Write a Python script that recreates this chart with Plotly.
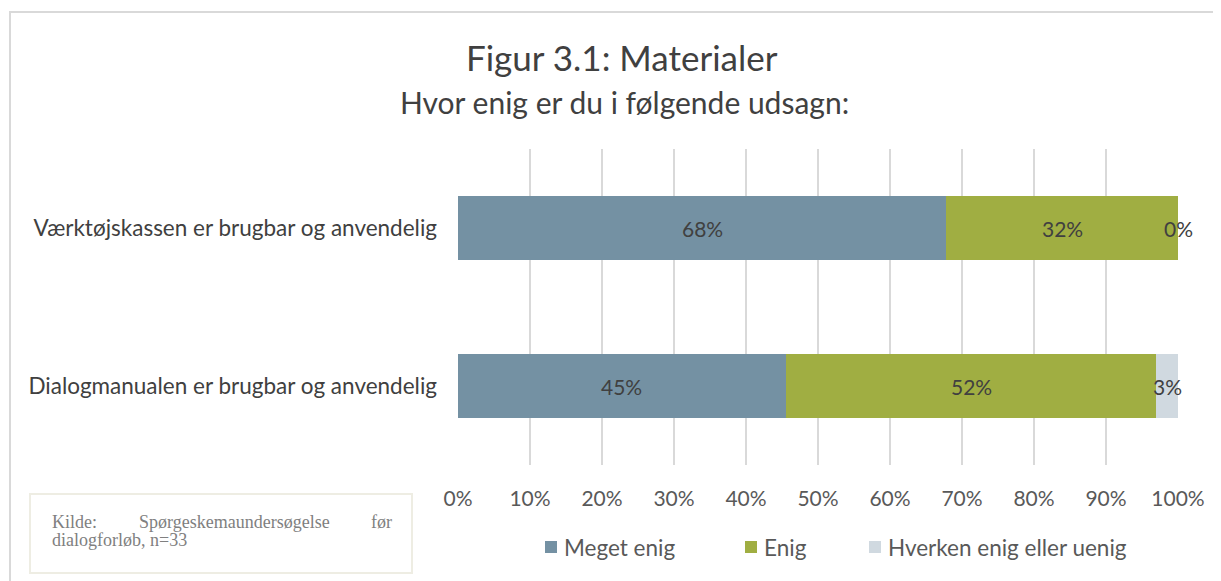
import plotly.graph_objects as go

categories = ["Dialogmanualen er brugbar og anvendelig", "Værktøjskassen er brugbar og anvendelig"]
series_names = ["Meget enig", "Enig", "Hverken enig eller uenig"]
meget_enig = [45.5, 67.8]
enig = [51.5, 32.2]
hverken = [3.0, 0.0]
labels_meget = ["45%", "68%"]
labels_enig = ["52%", "32%"]
labels_hverken = ["3%", "0%"]
colors = ["#7491A3", "#A0AE42", "#D0D9E0"]
tick_vals = [0, 10, 20, 30, 40, 50, 60, 70, 80, 90, 100]
tick_text = [f"{v}%" for v in tick_vals]

# page has an 8px body margin; work in page coordinates and convert
OFF = 8
W, H = 1221 - OFF, 581 - OFF
L, R, T, B = 458, 1178, 149, 465  # plot area in page px

def px(x):
    return (x - L) / (R - L)

def py(y):
    return 1 - (y - T) / (B - T)

FONT = "Lato"
TXT = "#404040"
fig = go.Figure()
series = [meget_enig, enig, hverken]
series_labels = [labels_meget, labels_enig, labels_hverken]
for name, vals, col in zip(series_names, series, colors):
    fig.add_trace(go.Bar(
        y=categories, x=vals, name=name, orientation="h",
        marker=dict(color=col, line=dict(width=0)),
        showlegend=False, hoverinfo="x+y+name",
    ))

# data labels centred in each segment (via data coordinates)
for i, cat in enumerate(categories):
    base = 0.0
    for vals, labs in zip(series, series_labels):
        mid = base + vals[i] / 2
        fig.add_annotation(x=mid, y=cat, xref="x", yref="y", text=labs[i], showarrow=False,
                           font=dict(size=21, color=TXT, family=FONT))
        base += vals[i]

fig.update_layout(
    width=W, height=H, barmode="stack", bargap=0.6,
    margin=dict(l=L - OFF, r=W - (R - OFF), t=T - OFF, b=H - (B - OFF)),
    paper_bgcolor="white", plot_bgcolor="white",
    font=dict(family=FONT, color="#595959"),
    xaxis=dict(range=[0, 100], tickvals=tick_vals, ticktext=tick_text,
               showgrid=True, gridcolor="#D9D9D9", gridwidth=1.5,
               zeroline=False, showline=False, ticks="",
               tickfont=dict(size=21, color="#595959"), ticklabelstandoff=19),
    yaxis=dict(showgrid=False, zeroline=False, showline=False, ticks="",
               tickfont=dict(size=22.5, color=TXT), ticklabelstandoff=20),
    showlegend=False,
)

fig.add_annotation(text="Figur 3.1: Materialer", xref="paper", yref="paper",
                   x=px(622), y=py(57), xanchor="center", yanchor="middle",
                   showarrow=False, font=dict(size=35, color=TXT))
fig.add_annotation(text="Hvor enig er du i følgende udsagn:", xref="paper", yref="paper",
                   x=px(624), y=py(102), xanchor="center", yanchor="middle",
                   showarrow=False, font=dict(size=30, color=TXT))

# manual legend
legend_x = [545, 745, 869]
for lx, name, col in zip(legend_x, series_names, colors):
    fig.add_shape(type="rect", xref="paper", yref="paper", x0=px(lx), x1=px(lx + 12),
                  y0=py(541), y1=py(553), line=dict(width=0), fillcolor=col)
    fig.add_annotation(text=name, xref="paper", yref="paper", x=px(lx + 17), y=py(547),
                       xanchor="left", yanchor="middle", showarrow=False,
                       font=dict(size=22.5, color="#595959"))

# outer border (top and left)
fig.add_shape(type="line", xref="paper", yref="paper", x0=px(9), x1=px(1225), y0=py(12), y1=py(12),
              line=dict(color="#D9D9D9", width=2))
fig.add_shape(type="line", xref="paper", yref="paper", x0=px(10), x1=px(10), y0=py(12), y1=py(590),
              line=dict(color="#D9D9D9", width=2))
# source box
fig.add_shape(type="rect", xref="paper", yref="paper", x0=px(30), x1=px(412), y0=py(494), y1=py(573),
              line=dict(color="#EEEDE3", width=2), fillcolor="white")
src_font = dict(family="Liberation Serif", size=18, color="#808080")
fig.add_annotation(text="Kilde:", xref="paper", yref="paper", x=px(50), y=py(522),
                   xanchor="left", yanchor="middle", showarrow=False, font=src_font)
fig.add_annotation(text="Spørgeskemaundersøgelse", xref="paper", yref="paper", x=px(137), y=py(522),
                   xanchor="left", yanchor="middle", showarrow=False, font=src_font)
fig.add_annotation(text="før", xref="paper", yref="paper", x=px(394), y=py(522),
                   xanchor="right", yanchor="middle", showarrow=False, font=src_font)
fig.add_annotation(text="dialogforløb, n=33", xref="paper", yref="paper", x=px(50), y=py(540),
                   xanchor="left", yanchor="middle", showarrow=False, font=src_font)

fig.write_html("out.html")
